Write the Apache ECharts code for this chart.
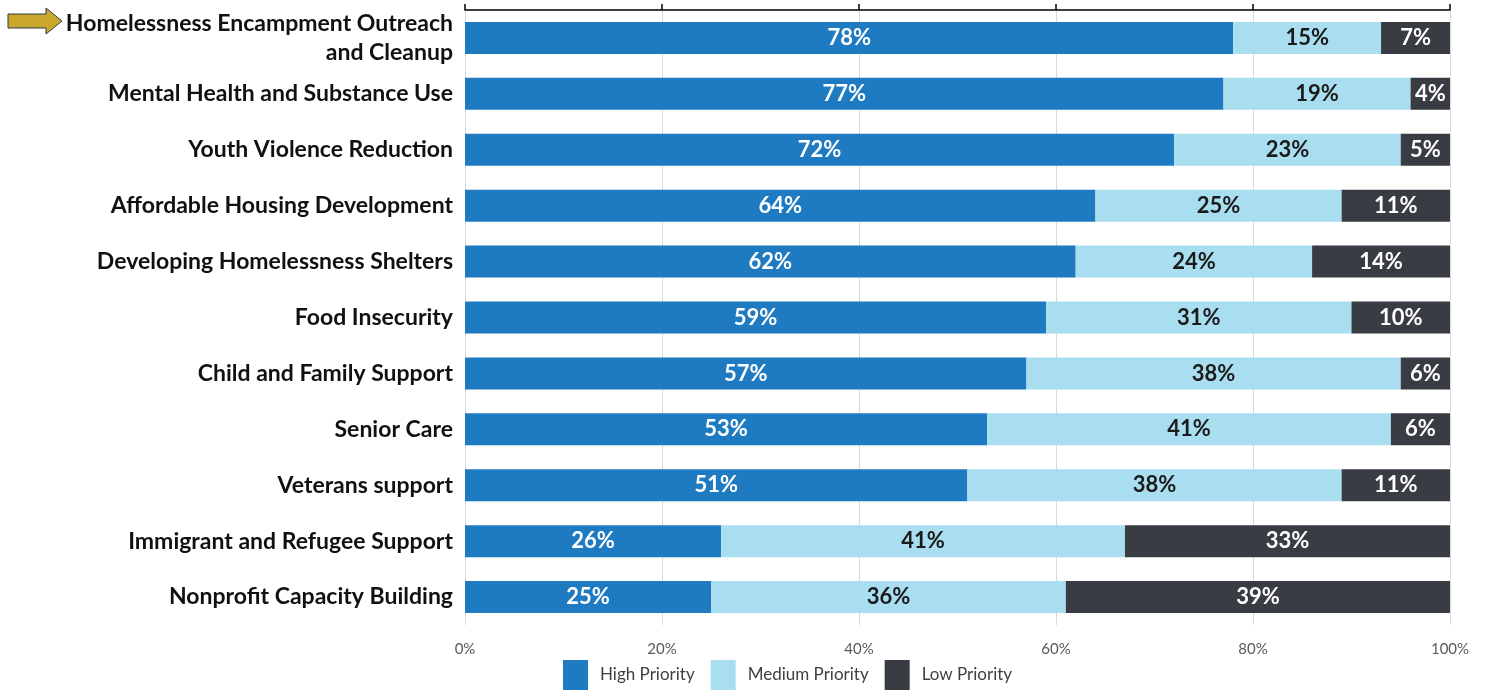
<!DOCTYPE html>
<html>
<head>
<meta charset="utf-8">
<script src="https://cdn.jsdelivr.net/npm/echarts@6/dist/echarts.min.js"></script>
<style>
  html, body { margin: 0; padding: 0; background: #ffffff; }
  #chart { width: 1489px; height: 690px; }
</style>
</head>
<body>
<div id="chart"></div>
<script>
// Community priorities, share of respondents per rating (top to bottom)
const categories = [
  'Homelessness Encampment Outreach\nand Cleanup',
  'Mental Health and Substance Use',
  'Youth Violence Reduction',
  'Affordable Housing Development',
  'Developing Homelessness Shelters',
  'Food Insecurity',
  'Child and Family Support',
  'Senior Care',
  'Veterans support',
  'Immigrant and Refugee Support',
  'Nonprofit Capacity Building'
];
const highPriority   = [78, 77, 72, 64, 62, 59, 57, 53, 51, 26, 25];
const mediumPriority = [15, 19, 23, 25, 24, 31, 38, 41, 38, 41, 36];
const lowPriority    = [7, 4, 5, 11, 14, 10, 6, 6, 11, 33, 39];
const seriesNames = ['High Priority', 'Medium Priority', 'Low Priority'];
const axisTicks = [0, 20, 40, 60, 80, 100];

const FONT = 'Lato, "Open Sans", sans-serif';
const colors = ['#1f7bc1', '#a9def0', '#393c43'];
const labelColors = ['#ffffff', '#1a1a1a', '#ffffff'];

const chart = echarts.init(document.getElementById('chart'), null, { renderer: 'canvas' });

function barSeries(name, data, idx) {
  return {
    name: name,
    type: 'bar',
    stack: 'total',
    data: data,
    barWidth: 32,
    itemStyle: { color: colors[idx] },
    label: {
      show: true,
      position: 'inside',
      formatter: '{c}%',
      color: labelColors[idx],
      fontFamily: FONT,
      fontWeight: 'bold',
      fontSize: 22
    },
    emphasis: { disabled: true }
  };
}

chart.setOption({
  animation: false,
  textStyle: { fontFamily: FONT },
  grid: { left: 465, right: 39, top: 10, bottom: 65, containLabel: false },
  legend: {
    data: seriesNames,
    left: 563,
    top: 660,
    padding: 0,
    icon: 'rect',
    itemWidth: 25,
    itemHeight: 30,
    itemGap: 16,
    textStyle: { fontFamily: FONT, fontSize: 17, color: '#404040', padding: [0, 0, 0, 7] }
  },
  xAxis: [
    {
      type: 'value',
      min: axisTicks[0],
      max: axisTicks[axisTicks.length - 1],
      interval: axisTicks[1] - axisTicks[0],
      axisLine: { show: false },
      axisTick: { show: false },
      axisLabel: { formatter: '{value}%', color: '#595959', fontSize: 15, fontFamily: FONT, margin: 17 },
      splitLine: { show: true, lineStyle: { color: '#d9d9d9', width: 1 } }
    },
    {
      type: 'value',
      position: 'top',
      min: axisTicks[0],
      max: axisTicks[axisTicks.length - 1],
      interval: axisTicks[1] - axisTicks[0],
      axisLine: { show: true, lineStyle: { color: '#000000', width: 1.5 } },
      axisTick: { show: true, length: 6, inside: false, lineStyle: { color: '#000000', width: 1.5 } },
      axisLabel: { show: false },
      splitLine: { show: false }
    }
  ],
  yAxis: {
    type: 'category',
    data: categories,
    inverse: true,
    axisLine: { show: false },
    axisTick: { show: false },
    axisLabel: {
      color: '#111111',
      fontFamily: FONT,
      fontWeight: 'bold',
      fontSize: 23,
      lineHeight: 29,
      margin: 12,
      align: 'right'
    }
  },
  series: [
    barSeries(seriesNames[0], highPriority, 0),
    barSeries(seriesNames[1], mediumPriority, 1),
    barSeries(seriesNames[2], lowPriority, 2)
  ],
  graphic: [
    {
      // pointer arrow beside the first category
      type: 'polygon',
      shape: { points: [[8, 14], [46, 14], [46, 8], [62, 21], [46, 34], [46, 28], [8, 28]] },
      style: { fill: '#c9a82c', stroke: '#2d3a4a', lineWidth: 1 }
    }
  ]
});
</script>
</body>
</html>
